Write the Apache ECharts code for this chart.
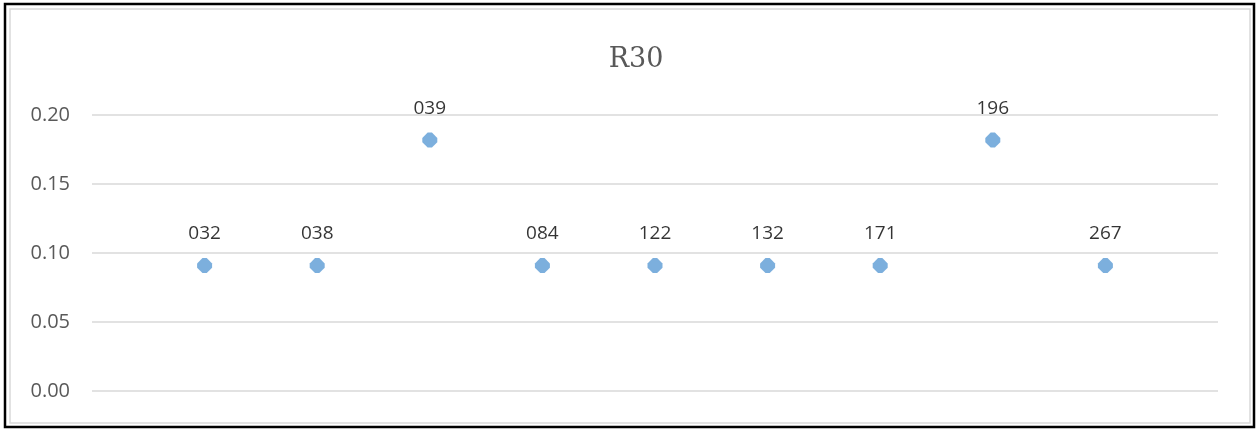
<!DOCTYPE html>
<html><head><meta charset="utf-8">
<script src="https://cdn.jsdelivr.net/npm/echarts@6/dist/echarts.min.js"></script>
<style>html,body{margin:0;padding:0;background:#fff}#c{width:1258px;height:429px}</style>
</head><body><div id="c"></div>
<script>
const titleText = 'R30';
const pointLabels = ['032','038','039','084','122','132','171','196','267'];
const xPositions = [1,2,3,4,5,6,7,8,9];
const yValues = [0.0909,0.0909,0.1818,0.0909,0.0909,0.0909,0.0909,0.1818,0.0909];

const chart = echarts.init(document.getElementById('c'));
chart.setOption({
  animation:false,
  backgroundColor:'#fff',
  title:{text:titleText,left:631,top:41,textAlign:'center',
    textStyle:{fontFamily:'DejaVu Serif',fontSize:27,fontWeight:'normal',color:'#595959'}},
  grid:{left:92,right:40,top:115,bottom:38},
  xAxis:{type:'value',min:0,max:10,show:false},
  yAxis:{type:'value',min:0,max:0.2,interval:0.05,
    axisLine:{show:false},axisTick:{show:false},
    axisLabel:{formatter:v=>v.toFixed(2),color:'#595959',fontSize:20,fontFamily:'Open Sans',margin:22},
    splitLine:{lineStyle:{color:'#d9d9d9',width:1.5}}},
  series:[{type:'scatter',
    symbol:'path://M5,0 L9,0 L14,5 L14,9 L9,14 L5,14 L0,9 L0,5 Z',symbolSize:15,
    itemStyle:{color:'#5b9bd5'},
    data:xPositions.map((x,i)=>({value:[x,yValues[i]],label:{formatter:pointLabels[i]}})),
    label:{show:true,position:'top',distance:15,color:'#000',fontSize:19,fontFamily:'Open Sans'}}],
  graphic:[
    {type:'rect',shape:{x:5,y:4,width:1249,height:423},style:{fill:'none',stroke:'#000',lineWidth:2.5},silent:true},
    {type:'rect',shape:{x:10,y:9,width:1240,height:414},style:{fill:'none',stroke:'#d9d9d9',lineWidth:1.5},silent:true}
  ]
});
</script></body></html>
